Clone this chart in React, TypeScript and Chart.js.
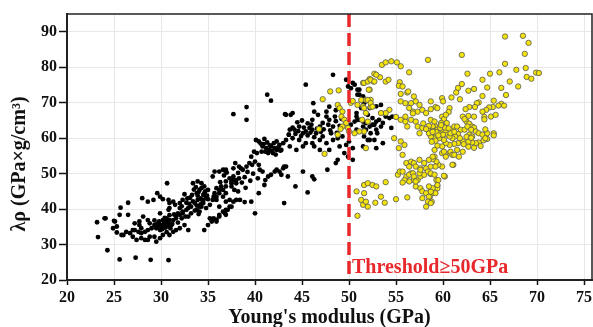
import React, { useEffect, useRef } from 'react';
import { Chart, registerables } from 'chart.js';

Chart.register(...registerables);

const xTickValues = [20, 25, 30, 35, 40, 45, 50, 55, 60, 65, 70, 75];
const yTickValues = [20, 30, 40, 50, 60, 70, 80, 90];
const thresholdX = 50;
const thresholdLabel = 'Threshold≥50GPa';
const xTitle = "Young's modulus (GPa)";
const yTitle = 'λρ (GPa×g/cm³)';

const blackPoints: [number, number][] = [
  [30.65,47.3],[23.2,36.3],[24.1,37.4],[23.3,32.1],[24.3,28.4],[25.6,25.8],[27.3,26.3],[28.9,25.7],[30.8,25.6],[25.7,40.4],[26.5,41.8],[28.0,43.1],[25.0,36.7],[24.9,34.6],[25.3,33.4],[25.8,32.7],
  [29.6,44.5],[29.9,43.5],[30.2,42.8],[30.8,42.6],[31.3,42.1],[30.9,41.7],[31.5,41.2],[32.0,41.7],[32.3,42.6],[32.7,41.8],[32.0,40.3],[31.8,38.8],[32.3,38.8],[32.7,39.8],[32.6,37.9],[32.2,37.4],[31.6,37.4],[31.3,36.9],[30.9,36.9],[30.6,37.4],[30.2,36.9],[30.8,36.0],[30.4,35.5],[29.9,35.1],[29.5,34.6],[29.3,35.5],[29.0,34.6],[28.6,34.1],[28.3,33.6],[27.9,33.2],[27.6,33.6],[27.2,34.1],[26.7,33.2],[26.3,33.6],[26.0,32.7],[27.0,32.2],[27.4,31.3],[27.9,31.8],[28.3,31.3],[28.8,32.2],[29.3,32.2],[29.9,31.8],[29.5,30.8],[30.2,32.7],[30.9,32.7],[31.3,33.6],[31.6,34.1],[32.0,34.6],[32.5,35.5],[32.9,34.1],[28.1,37.9],[27.7,36.5],[27.7,35.5],[27.9,34.6],[28.6,36.9],[28.8,36.0],[29.9,38.8],[30.8,39.8],[30.9,40.3],[28.6,42.1],[29.2,42.6],[26.5,38.4],[27.2,36.0],[28.6,31.3],[25.6,38.4],[24.0,37.4],[25.1,36.5],[25.3,35.1],[27.0,34.1],
  [33.4,47.3],[33.8,44.5],[34.1,45.4],[34.5,44.0],[34.8,43.1],[33.9,42.6],[33.6,41.7],[33.2,40.7],[32.9,40.3],[32.3,39.3],[32.0,38.4],[31.6,37.9],[31.1,35.5],[30.6,36.5],[30.2,34.6],[29.9,34.1],[29.5,35.1],[32.9,37.9],[33.2,38.8],[33.8,39.8],[34.1,40.7],[34.5,41.7],[34.8,40.3],[35.2,41.2],[35.5,42.6],[35.9,43.5],[36.2,44.5],[36.6,45.4],[36.9,46.4],[37.5,47.3],[37.7,49.2],[38.0,48.2],[35.4,36.9],[35.9,36.5],[36.2,38.4],[36.8,38.8],[37.1,39.8],[37.5,40.7],[38.0,42.6],[35.5,49.2],[36.2,50.6],[36.8,50.9],[37.3,48.7],[36.9,47.8],[35.7,44.5],[36.4,46.4],[35.0,45.4],[34.6,46.4],[34.3,47.3],[33.9,47.8],
  [37.7,66.8],[39.1,68.8],[39.1,65.2],[41.7,70.6],[43.2,66.8],[40.1,59.5],[40.4,59.1],[40.8,57.7],[41.2,57.2],[41.5,56.7],[41.7,57.7],[42.1,57.2],[42.3,59.1],[42.6,58.1],[43.0,58.6],[43.3,59.5],[43.6,61.0],[41.1,56.2],[41.4,55.8],[41.9,55.8],[42.3,56.7],[40.7,56.2],[40.2,55.8],[39.9,56.2],[39.6,54.8],[40.0,53.4],[39.4,53.0],[39.1,52.0],[38.7,51.1],[38.5,51.5],[40.4,52.5],[40.5,51.1],[40.8,50.6],[41.1,48.2],[41.0,46.8],[41.4,49.2],[41.7,49.7],[42.1,50.6],[42.3,51.1],[42.6,50.6],[42.8,49.7],[43.0,51.5],[43.3,52.0],[43.5,49.2],[40.3,48.7],[40.4,44.5],[40.0,38.8],[43.1,41.7],
  [38.3,48.7],[38.0,47.3],[37.7,48.2],[37.5,46.4],[37.8,45.4],[38.2,45.0],[38.4,42.6],[37.7,42.1],[37.3,42.6],[36.9,44.5],[36.6,43.5],[36.2,45.4],[35.9,45.9],[35.7,50.6],[36.6,51.1],[36.9,51.1],[37.5,47.8],[35.6,43.5],[35.9,42.6],[36.2,40.7],[36.6,39.3],[36.9,39.8],[37.3,40.7],[36.9,38.4],[36.2,37.9],[35.9,37.0],[35.6,37.4],[35.4,36.5],[35.0,35.5],
  [45.6,44.7],[46.3,48.4],[44.3,46.4],[38.9,42.0],[39.6,42.1],[36.9,42.1],[35.2,37.4],[34.6,34.1],[34.3,40.7],[34.5,42.6],[34.1,39.3],[48.6,53.0],[41.3,72.3],[46.2,69.9],[46.3,67.5],[43.8,66.6],
  [45.4,75.1],[44.0,67.1],[43.3,66.6],[44.2,62.4],[43.7,62.4],[44.7,63.3],[45.1,61.4],[45.4,61.9],[45.8,62.9],[46.1,62.4],[46.5,61.4],[46.9,63.3],[47.2,64.3],[46.1,65.2],[46.7,66.6],[47.6,66.1],[47.9,65.2],[48.3,63.3],[48.5,66.1],[48.6,67.9],[47.9,68.9],[47.6,67.5],[48.1,61.4],[47.2,60.5],[46.9,59.5],[47.6,58.6],[48.3,59.5],[46.1,58.6],[45.4,58.6],[44.7,59.5],[44.0,60.0],[42.8,56.7],[43.7,57.7],[44.4,56.7],[45.1,57.7],[47.9,56.7],[48.8,53.9],[47.7,51.1],[46.9,56.7],[46.3,57.7],[45.1,50.6],[43.1,52.0],[46.1,49.2],
  [49.7,76.5],[49.9,74.6],[50.2,74.1],[50.6,75.1],[50.9,73.7],[51.1,72.3],[51.5,71.8],[51.6,70.4],[51.3,68.5],[50.8,67.1],[50.9,65.2],[50.6,64.7],[50.2,63.8],[51.5,63.3],[51.8,62.4],[52.2,63.3],[52.5,63.8],[52.9,62.4],[53.0,61.4],[52.3,61.4],[52.0,59.5],[52.7,59.5],[50.0,59.1],[49.7,58.1],[50.4,57.2],[49.3,60.5],[48.8,60.0],[49.0,57.7],[49.5,55.8],[49.9,54.8],[50.8,62.4],[48.3,77.9],
  [50.4,75.6],[51.1,73.7],[50.9,72.3],[51.3,70.8],[51.6,69.9],[52.2,68.5],[52.0,66.6],[52.5,65.7],[52.9,64.7],[53.2,65.2],[53.6,64.3],[53.4,63.3],[52.7,63.8],[51.8,64.3],[51.5,64.7],[51.1,65.2],[50.8,66.1],[52.9,69.0],[53.4,69.4],[53.9,66.1],[54.3,65.7],[54.6,66.1],[54.5,62.9],[51.6,60.5],[51.5,57.7],[52.2,59.5],[52.9,57.2],[53.6,58.6],[50.4,53.9],
  [33.1,43.2],[33.3,44.0],[33.5,45.5],[33.7,46.2],[33.9,43.8],[34.0,44.8],[34.2,43.0],[34.3,45.9],[34.4,42.5],[34.6,44.4],[34.7,45.0],[34.9,43.8],[35.0,42.8],[33.4,42.2],[33.6,39.6],[34.0,38.6],[34.2,41.3],[33.0,41.5],[32.8,43.0],[32.5,44.2],[32.2,40.8],[33.8,41.0],
  [29.6,35.8],[29.8,36.5],[30.0,35.5],[30.1,34.3],[30.3,35.9],[30.5,34.8],[30.7,35.3],[31.0,34.6],[31.2,35.8],[30.4,37.5],[29.3,36.8],[30.6,33.5],[31.4,38.5],[31.8,36.2],[30.9,38.3],
  [40.9,58.3],[41.3,58.8],[41.6,58.0],[42.0,58.6],[41.8,56.4],[42.5,57.5],[41.0,59.8],[40.6,58.5],[42.2,55.4],[42.7,56.5],
  [44.3,61.2],[44.6,62.0],[44.9,60.6],[45.2,63.0],[45.6,60.8],[45.9,61.6],[46.3,60.3],[46.6,62.7],[47.0,61.8],[44.5,64.5],[45.0,65.0],[45.6,64.2],[46.0,63.8],[44.0,63.0],[43.6,61.0],[47.3,62.5],[47.8,63.8],[48.0,62.2],[48.6,64.8],[49.0,63.5],[49.2,65.5],[48.7,61.5],
  [38.6,47.5],[38.9,49.0],[39.2,50.5],[39.5,48.0],[39.8,50.0],[38.2,50.2],[39.0,46.0],[39.7,52.5],
  [36.3,47.6],[36.7,49.5],[37.0,50.3],[37.7,51.5],[37.9,53.0],[38.3,52.0]
];

const yellowPoints: [number, number][] = [
  [66.6,88.7],[68.5,88.9],[69.1,86.9],[68.7,83.8],[62.0,83.5],[66.6,81.0],[67.8,79.3],[68.8,79.8],[69.9,78.5],[70.2,78.4],[68.9,77.3],[69.4,76.8],[68.0,74.6],[67.1,76.0],[66.0,78.6],[65.0,78.2],[64.2,76.5],[62.6,78.2],[64.7,74.3],[66.2,74.2],[66.7,72.2],[63.3,73.9],[62.7,73.4],[62.0,75.3],[61.6,74.2],[61.4,72.9],[61.8,71.0],[60.9,71.5],[59.9,71.3],[60.0,70.4],[64.2,71.9],[65.4,70.6],
  [66.2,69.7],[65.9,69.2],[65.3,68.8],[64.9,68.7],[64.6,68.0],[64.2,67.5],[64.4,66.0],[64.4,65.3],
  [63.8,70.1],[63.6,69.9],[63.4,68.8],[62.8,68.8],[62.4,68.2],[62.1,66.1],[63.3,66.1],[62.7,66.3],[62.5,64.7],[62.8,64.1],[63.1,63.3],[63.3,63.0],[62.3,65.4],
  [65.4,61.4],[65.4,60.8],[64.7,59.8],[64.3,59.4],[63.8,58.8],[63.5,58.6],[63.1,58.8],[62.7,59.0],
  [62.1,59.1],[61.6,58.6],[61.2,58.4],[60.7,58.1],[60.3,58.6],[59.9,57.7],[59.4,57.9],
  [60.7,55.8],[60.8,56.2],[61.0,55.3],[60.3,54.8],[59.9,55.8],[61.1,52.5],[60.2,49.2],[59.9,52.0],[59.5,52.5],[59.3,53.4],[59.1,54.8],[58.9,54.1],
  [58.7,49.9],[59.3,48.2],[59.4,46.6],[58.7,45.4],[58.9,44.5],[58.6,43.5],[58.8,42.1],
  [58.7,70.4],[59.2,68.8],[59.4,68.5],[59.9,66.1],[60.1,65.4],[60.7,68.5],[60.6,67.4],[60.3,66.6],[60.4,64.3],[59.8,64.3],[59.2,63.3],[58.9,63.1],[59.4,62.4],[58.7,65.2],[59.1,64.7],[59.6,61.4],[59.9,62.4],[60.3,61.9],[60.5,61.0],[61.0,62.4],[61.2,63.3],[61.5,63.3],[61.9,62.4],[61.6,61.2],[61.3,60.5],[61.0,60.0],[60.7,60.5],[60.1,59.5],[59.6,60.0],[59.1,60.0],[58.7,60.5],
  [62.3,62.4],[62.6,63.3],[63.0,62.4],[63.5,61.9],[62.8,61.0],
  [53.5,80.7],[53.9,81.4],[54.5,81.7],[55.1,81.4],[55.5,80.3],[58.4,82.1],[56.4,78.6],[52.7,78.2],[52.2,76.7],[51.5,75.6],[52.6,76.0],[53.3,77.2],[53.9,76.0],[54.2,76.5],[55.4,75.8],[55.3,74.8],[55.7,74.6],[56.2,72.9],[55.5,72.5],
  [52.2,73.7],[51.8,70.8],[52.3,70.8],[51.5,69.0],[52.3,68.8],
  [55.5,70.4],[56.0,69.9],[56.6,69.9],[57.1,70.4],[57.5,69.4],[56.4,68.5],[56.8,67.5],[57.3,67.5],[57.8,68.0],[58.2,67.1],[58.7,68.2],
  [54.3,68.0],[53.9,67.1],[53.4,67.1],[55.0,66.0],[55.5,65.2],[56.0,64.7],[56.6,65.2],[57.1,64.7],[56.0,66.1],
  [57.3,63.3],[57.8,62.9],[57.5,61.4],[58.4,62.4],[58.9,63.3],[58.5,61.4],[59.1,61.4],
  [54.8,60.0],[55.5,59.1],[55.3,57.2],[55.9,58.1],
  [55.7,55.3],[56.1,53.0],[56.6,53.4],[56.9,53.0],[56.4,52.0],[57.1,52.0],[57.5,53.9],[57.6,51.5],[58.0,53.0],[58.2,51.5],[58.5,53.9],[58.9,54.8],[59.1,56.7],[58.7,52.0],[59.2,52.0],[56.1,49.2],[56.6,50.1],[56.9,48.2],[56.4,47.8],[57.3,48.2],[57.6,49.2],[58.0,49.7],[58.4,50.6],[58.7,50.1],[59.1,49.7],[57.1,46.4],[57.6,45.9],[57.8,45.0],[58.2,44.5],[58.5,43.5],[58.4,42.1],[58.7,41.7],[58.2,40.7],[59.2,44.5],[59.4,45.9],[58.9,45.9],[55.2,49.7],[55.4,50.6],
  [50.8,45.0],[51.6,46.8],[52.0,47.3],[52.5,46.8],[52.9,46.4],[53.9,47.6],[51.6,44.5],[51.5,41.2],[52.0,40.7],[52.8,41.8],[53.4,43.5],[53.8,41.8],[50.9,38.1],[51.3,42.6],[51.8,42.1],
  [55.0,42.8],[56.2,43.3],[57.8,43.1],[58.7,44.9],[58.5,46.4],[59.4,46.8],[59.5,48.2],[60.1,49.4],[61.0,52.5],[55.7,50.6],[55.9,48.2],[55.7,47.5],[56.4,49.7],[56.8,50.1],[56.9,49.2],[57.1,47.8],[57.5,50.1],[57.6,51.1],
  [47.2,71.0],[48.0,73.2],[48.9,73.5],[46.8,62.6],[47.4,55.6],[48.8,69.4],[49.0,68.5],[49.3,67.5],[49.2,66.1],[49.5,65.2],[49.7,64.3],[49.3,63.3],[49.9,62.9],[49.1,62.6],[48.8,61.0],[50.0,61.9],
  [50.2,70.0],[50.4,70.5],[50.9,69.4],[51.3,70.8],[51.6,75.6],[52.0,76.0],[52.3,76.5],[52.9,77.9],[52.7,76.0],[52.1,73.7],[52.0,70.8],[52.3,69.9],[52.5,68.9],[51.6,68.5],[51.8,67.1],[51.4,65.2],[52.0,64.7],[51.6,61.9],[51.8,57.2],[51.1,61.9],[50.6,61.4],
  [65.1,66.1],[65.6,66.6],[66.5,69.2],[63.8,61.4],[64.2,61.0],[64.5,60.0],[64.7,61.4],[63.1,60.5],
  [61.5,56.7],[62.1,56.2],[61.2,55.3],[61.7,54.8],[60.1,56.2],[56.3,73.2],[56.9,71.8],[56.8,67.0],[56.2,63.3],
  [59.0,62.0],[59.3,61.7],[59.7,62.9],[60.0,61.0],[60.2,63.0],[59.5,60.8],[58.9,61.8],[60.6,62.8],[59.8,63.7],[58.5,63.5],[58.2,62.6],[57.9,64.2],[60.8,61.4],[61.2,61.8],[59.2,59.3],[58.8,59.0],
  [61.8,60.0],[62.2,58.3],[62.5,60.4],[63.0,60.1],[64.5,62.5],[64.0,57.8],[63.3,57.3],[62.7,57.6]
];

const FONT = '"Liberation Serif", "Times New Roman", serif';

export default function App() {
  const ref = useRef<HTMLCanvasElement | null>(null);

  useEffect(() => {
    document.body.style.margin = '0';
    const canvas = ref.current;
    if (!canvas) return;

    const overlay = {
      id: 'overlay',
      afterDatasetsDraw(chart: any) {
        const { ctx, chartArea, scales } = chart;
        const xp = scales.x.getPixelForValue(thresholdX);
        ctx.save();
        ctx.strokeStyle = '#e8282b';
        ctx.lineWidth = 3.5;
        ctx.setLineDash([13, 6]);
        ctx.beginPath();
        ctx.moveTo(xp, chartArea.top);
        ctx.lineTo(xp, chartArea.bottom);
        ctx.stroke();
        ctx.restore();
      },
      afterDraw(chart: any) {
        const { ctx, chartArea, scales } = chart;
        ctx.save();
        ctx.strokeStyle = '#222';
        ctx.lineWidth = 1.5;
        ctx.strokeRect(chartArea.left, chartArea.top, chartArea.right - chartArea.left, chartArea.bottom - chartArea.top);
        // x tick labels
        ctx.fillStyle = '#111';
        ctx.font = `bold 16px ${FONT}`;
        ctx.textAlign = 'center';
        ctx.textBaseline = 'top';
        xTickValues.forEach((v) => {
          ctx.fillText(String(v), scales.x.getPixelForValue(v), chartArea.bottom + 10);
        });
        // threshold label
        ctx.fillStyle = '#e8282b';
        ctx.font = `bold 20px ${FONT}`;
        ctx.textAlign = 'left';
        ctx.textBaseline = 'alphabetic';
        ctx.fillText(thresholdLabel, scales.x.getPixelForValue(thresholdX) + 3, 273);
        // axis titles
        ctx.fillStyle = '#111';
        ctx.font = `bold 20px ${FONT}`;
        ctx.textAlign = 'center';
        ctx.textBaseline = 'middle';
        ctx.fillText(xTitle, (chartArea.left + chartArea.right) / 2, 318);
        ctx.translate(20, 164);
        ctx.rotate(-Math.PI / 2);
        ctx.fillText(yTitle, 0, 0);
        ctx.restore();
      },
    };

    const chart = new Chart(canvas, {
      type: 'scatter',
      data: {
        datasets: [
          {
            label: 'E ≥ 50 GPa',
            data: yellowPoints.map(([x, y]) => ({ x, y })),
            backgroundColor: '#f3e30a',
            borderColor: '#555',
            borderWidth: 0.8,
            pointRadius: 2.7,
          },
          {
            label: 'E < 50 GPa',
            data: blackPoints.map(([x, y]) => ({ x, y })),
            backgroundColor: '#000',
            borderColor: '#000',
            borderWidth: 0,
            pointRadius: 2.4,
          },
        ],
      },
      options: {
        responsive: false,
        animation: false,
        events: [],
        layout: { autoPadding: false, padding: { top: 14, right: 1, left: 0, bottom: 0 } },
        plugins: { legend: { display: false }, tooltip: { enabled: false } },
        scales: {
          x: {
            type: 'linear',
            min: 20,
            max: 75.85,
            afterFit: (s: any) => { s.height = 47; },
            afterBuildTicks: (s: any) => { s.ticks = xTickValues.map((v) => ({ value: v })); },
            ticks: { display: false, stepSize: 5, includeBounds: false },
            grid: { color: '#e8e8e8', lineWidth: 1, tickColor: '#111', tickLength: 5, tickWidth: 1.5 },
            border: { color: '#222', width: 2 },
          },
          y: {
            type: 'linear',
            min: 20,
            max: 95.05,
            afterFit: (s: any) => { s.width = 67; },
            afterBuildTicks: (s: any) => { s.ticks = yTickValues.map((v) => ({ value: v })); },
            ticks: { stepSize: 10, includeBounds: false, color: '#111', padding: 2, autoSkip: false, font: { family: FONT, size: 16, weight: 'bold' } },
            grid: { color: '#e8e8e8', lineWidth: 1, tickColor: '#111', tickLength: 8, tickWidth: 1.5 },
            border: { color: '#222', width: 2 },
          },
        },
      },
      plugins: [overlay],
    } as any);

    return () => chart.destroy();
  }, []);

  return (
    <div style={{ position: 'absolute', left: 0, top: 0, width: 593, height: 327, background: '#fff' }}>
      <canvas ref={ref} width={593} height={327} style={{ width: 593, height: 327, display: 'block' }} />
    </div>
  );
}
